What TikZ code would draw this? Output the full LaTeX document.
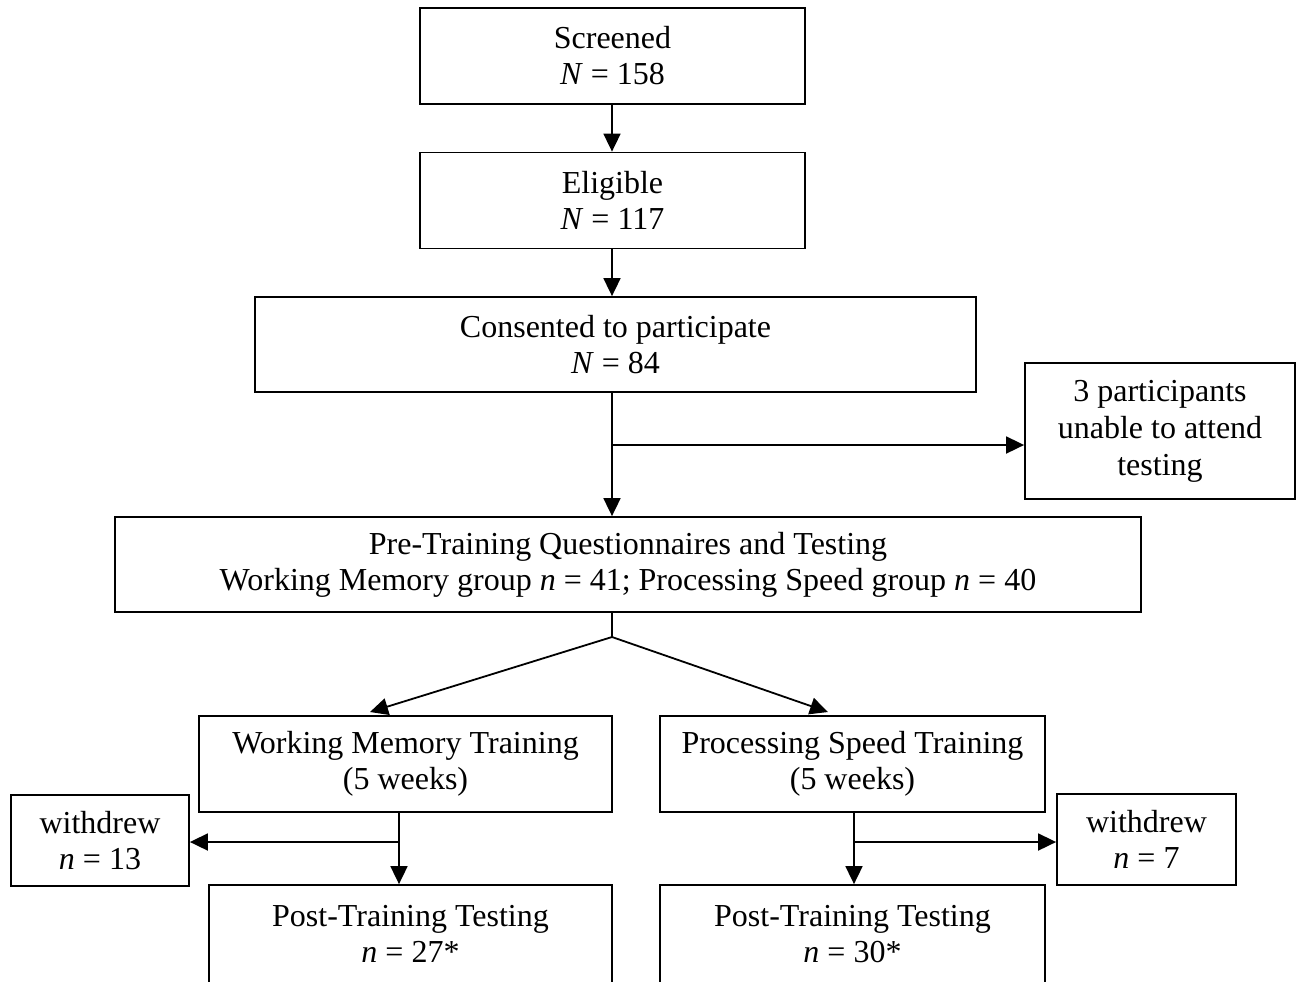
\documentclass[tikz,border=0pt]{standalone}
\usepackage{fontspec}
\setmainfont{Liberation Serif}
\usetikzlibrary{arrows.meta, positioning}

\begin{document}
\begin{tikzpicture}[x=0.5pt, y=-0.5pt,
  box/.style={draw, line width=0.9pt, align=center, inner sep=0pt,
    font=\fontsize{16}{18}\selectfont},
  arr/.style={-{Triangle[length=9pt,width=8.5pt]}, line width=0.9pt},
  link/.style={line width=0.9pt}]
  \useasboundingbox (0,0) rectangle (1296,981);

  % boxes
  \node[box, minimum width=192.5pt, minimum height=48pt] (screened) at (612.5,56) {Screened\\\textit{N} = 158};
  \node[box, minimum width=192.5pt, minimum height=48pt] (eligible) at (612.5,200.5) {Eligible\\\textit{N} = 117};
  \node[box, minimum width=360.5pt, minimum height=47.5pt] (consented) at (615.5,344.5) {Consented to participate\\\textit{N} = 84};
  \node[box, minimum width=135pt, minimum height=68pt, font=\fontsize{16}{18.5}\selectfont] (unable) at (1160,431) {3 participants\\unable to attend\\testing};
  \node[box, minimum width=513pt, minimum height=47.5pt] (pre) at (628,564.5) {Pre-Training Questionnaires and Testing\\Working Memory group \textit{n} = 41; Processing Speed group \textit{n} = 40};
  \node[box, minimum width=206.5pt, minimum height=48pt] (wm) at (405.5,764) {Working Memory Training\\(5 weeks)};
  \node[box, minimum width=192.5pt, minimum height=48pt] (ps) at (852.5,764) {Processing Speed Training\\(5 weeks)};
  \node[box, minimum width=89pt, minimum height=45.5pt] (wdl) at (100,840.5) {withdrew\\\textit{n} = 13};
  \node[box, minimum width=89.5pt, minimum height=45.5pt] (wdr) at (1146.5,839.5) {withdrew\\\textit{n} = 7};
  \node[box, minimum width=201.5pt, minimum height=49pt] (postl) at (410.5,934) {Post-Training Testing\\\textit{n} = 27*};
  \node[box, minimum width=192.5pt, minimum height=49pt] (postr) at (852.5,934) {Post-Training Testing\\\textit{n} = 30*};

  % helper points
  \coordinate (midline) at (612,0);
  \coordinate (split) at (612,445);
  \coordinate (fork) at (612,637);
  \coordinate (wmtip) at (370,712);
  \coordinate (pstip) at (828,712);
  \coordinate (wmline) at (399,842);
  \coordinate (psline) at (854,842);

  % connectors
  \draw[arr] (screened.south -| midline) -- (eligible.north -| midline);
  \draw[arr] (eligible.south -| midline) -- (consented.north -| midline);
  \draw[arr] (consented.south -| midline) -- (pre.north -| midline);
  \draw[arr] (split) -- (unable.west |- split);
  \draw[link] (pre.south -| midline) -- (fork);
  \draw[arr] (fork) -- (wmtip);
  \draw[arr] (fork) -- (pstip);
  \draw[arr] (wm.south -| wmline) -- (postl.north -| wmline);
  \draw[arr] (wmline) -- (wdl.east |- wmline);
  \draw[arr] (ps.south -| psline) -- (postr.north -| psline);
  \draw[arr] (psline) -- (wdr.west |- psline);
\end{tikzpicture}
\end{document}
